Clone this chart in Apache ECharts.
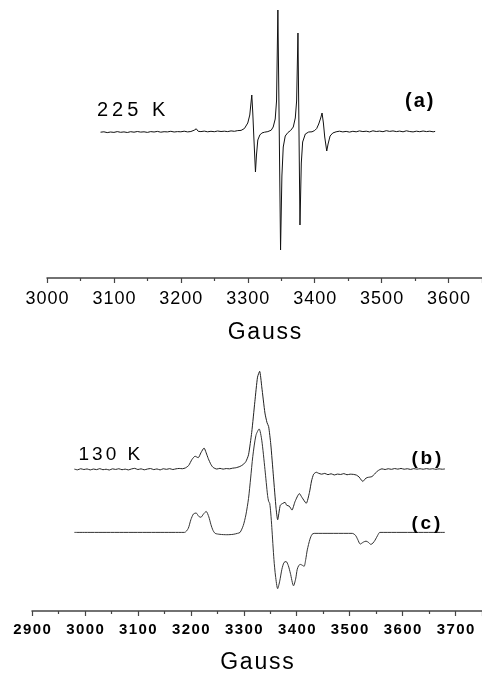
<!DOCTYPE html>
<html>
<head>
<meta charset="utf-8">
<script src="https://cdn.jsdelivr.net/npm/echarts@6/dist/echarts.min.js"></script>
<style>
  html, body { margin: 0; padding: 0; background: #fff; }
  #chart { width: 482px; height: 675px; }
</style>
</head>
<body>
<div id="chart"></div>
<script>
// EPR spectra, [field (G), intensity (a.u.)]
const spec225 = [
  [3080,-1.2],[3085,-0.8],[3090,-1.6],[3095,-1.0],[3100,-1.4],[3105,-0.6],[3110,-1.3],[3115,-0.9],
  [3120,-1.5],[3125,-0.7],[3130,-1.2],[3135,-0.5],[3140,-1.1],[3145,-0.8],[3150,-1.4],[3155,-0.6],
  [3160,-1.0],[3165,-0.4],[3170,-1.2],[3175,-0.7],[3180,-0.9],[3185,-0.3],[3190,-1.0],[3195,-0.6],
  [3200,-0.8],[3205,-0.2],[3210,-0.9],[3215,-0.5],[3220,0.8],[3223,2.2],[3226,-0.3],[3230,-0.6],
  [3235,-0.1],[3240,-0.8],[3245,-0.3],[3250,-0.7],[3255,0.0],[3260,-0.5],[3265,-0.2],[3270,-0.6],
  [3275,0.1],[3280,-0.3],[3285,0.4],[3290,0.6],[3295,2.5],[3300,8],[3303,16],[3306,36],
  [3307.5,18],[3309,-5],[3311.5,-41],[3313,-24],[3315,-9],[3318,-4],[3321,-2],[3325,-1.2],
  [3330,-0.6],[3335,0.8],[3338,4],[3341,12],[3343,30],[3345,121],[3347,2],[3349,-119],
  [3351,-45],[3353,-16],[3356,-5],[3360,-1.5],[3364,0.5],[3368,4],[3371,13],[3373,30],
  [3375,98],[3376.5,2],[3378,-94],[3380,-32],[3382,-11],[3386,-3],[3391,-1],[3396,-0.8],
  [3400,0.5],[3403,2.5],[3406,7],[3409,13],[3411,18],[3413,8],[3415,-6],[3418,-20],
  [3420,-13],[3423,-5],[3427,-2],[3432,-0.8],[3437,-0.2],[3442,-0.9],[3447,-0.4],[3452,-1.1],
  [3457,-0.3],[3462,-0.8],[3467,0.1],[3472,-0.6],[3477,-0.2],[3482,-0.9],[3487,0.2],[3492,-0.5],
  [3497,-0.1],[3502,-0.7],[3507,0.3],[3512,-0.4],[3517,0.1],[3522,-0.6],[3527,-0.1],[3532,-0.8],
  [3537,0.2],[3542,-0.5],[3547,-0.9],[3552,-0.2],[3557,-0.7],[3562,0.0],[3567,-0.6],[3572,-0.2],
  [3577,-0.8],[3580,-0.4]
];

const spec130 = [
  [2980,0.2],[2986,-0.5],[2992,0.6],[2998,-0.2],[3004,0.4],[3010,-0.6],[3016,0.3],[3022,-0.3],
  [3028,0.7],[3034,-0.4],[3040,0.1],[3046,-0.7],[3052,0.5],[3058,-0.1],[3064,0.6],[3070,-0.4],
  [3076,0.2],[3082,-0.6],[3088,0.4],[3094,1.0],[3100,-0.2],[3106,0.5],[3112,-0.5],[3118,0.3],
  [3124,0.8],[3130,-0.3],[3136,0.4],[3142,-0.6],[3148,0.6],[3154,0.0],[3160,0.7],[3166,-0.2],
  [3172,0.5],[3178,0.9],[3184,0.6],[3190,1.5],[3196,4],[3202,10],[3208,13.5],[3214,12],
  [3219,17],[3225,22],[3229,17],[3233,11],[3238,5],[3242,2],[3249,0.3],[3255,1.0],
  [3261,0.2],[3267,0.8],[3273,0.5],[3279,1.2],[3285,1.6],[3293,3],[3299,5],[3304,8],
  [3309,15],[3315,38],[3321,70],[3326,95],[3330,101],[3334,85],[3340,58],[3344,48],
  [3347,44],[3351,26],[3356,-7],[3361,-40],[3364,-52],[3369,-37],[3374,-35],[3378,-34],
  [3381,-37],[3386,-38],[3391,-42],[3397,-33],[3405,-25],[3410,-29],[3418,-35],[3424,-24],
  [3428,-12],[3432,-5],[3437,-3],[3441,-4],[3447,-5],[3453,-4.2],[3459,-5.5],[3465,-4.6],
  [3471,-5.8],[3477,-4.9],[3483,-5.3],[3489,-4.4],[3495,-5.6],[3501,-5],[3507,-5.2],[3513,-6],
  [3518,-8],[3522,-11],[3525,-12.5],[3529,-10],[3533,-8.5],[3538,-8],[3542,-7.5],[3547,-5],
  [3552,-2],[3557,-0.3],[3561,0.5],[3567,-0.2],[3573,0.6],[3579,0.0],[3585,0.8],[3591,0.2],
  [3597,0.9],[3603,0.1],[3609,0.6],[3615,-0.1],[3621,0.7],[3627,0.2],[3633,0.6],[3639,0.1],
  [3645,0.7],[3651,0.2],[3657,0.6],[3663,0.0],[3669,0.5],[3675,0.1],[3680,0.4]
];

// simulated spectrum
const specSim = [
  [2980,0],[3188,0],[3195,4],[3200,13],[3205,19],[3210,20],[3215,16.5],[3219,15.6],
  [3224,19],[3229,21.6],[3234,16],[3238,8],[3242,2],[3246,-1],[3255,-2],[3268,-2.4],
  [3280,-2],[3288,-1],[3293,0],[3299,7],[3304,18],[3309,35],[3313,56],[3317,78],
  [3323,100],[3329,106.6],[3334,95],[3340,65],[3345,38],[3347,32],[3349,30],[3351,20],
  [3353,5],[3357,-28],[3360,-45],[3364,-58],[3368,-50],[3372,-38],[3376,-31],[3380,-30],
  [3384,-34],[3388,-42],[3394,-55],[3398,-48],[3401,-38],[3404,-34],[3407,-33],[3411,-34],
  [3414,-35],[3417,-28],[3420,-18],[3425,-7],[3429,-2],[3433,-1],[3505,-1],[3511,-3],
  [3515,-7],[3520,-12],[3526,-10],[3531,-9],[3536,-10.5],[3540,-12.4],[3544,-11],[3548,-8],
  [3553,-3],[3557,0],[3680,0]
];

// vertical offsets of the stacked traces in the lower panel
const offsetB = 65;
const offsetC = 0;

const FONT = 'Liberation Sans, Arial, sans-serif';

function spaced(str, key) {
  return String(str).split('').map(c => '{' + key + '|' + c + '}').join('');
}
function shift(data, off) {
  return data.map(p => [p[0], p[1] + off]);
}

let myChart = echarts.init(document.getElementById('chart'), null, { renderer: 'canvas' });

function xAxisOf(grid, min, max, labelStyle, nameGap) {
  return {
    type: 'value',
    gridIndex: grid,
    min: min,
    max: max,
    interval: 100,
    position: 'bottom',
    axisLine: { show: true, onZero: false, lineStyle: { color: '#444', width: 1.5 } },
    axisTick: { show: true, length: 5, lineStyle: { color: '#444', width: 1.2 } },
    minorTick: { show: true, splitNumber: 2, length: 3, lineStyle: { color: '#444', width: 1.2 } },
    splitLine: { show: false },
    axisLabel: Object.assign({
      margin: labelStyle.margin,
      showMaxLabel: false,
      formatter: v => (v % 100 === 0 ? spaced(v, 'd') : ''),
      rich: { d: labelStyle.rich }
    }, labelStyle.rich, { padding: 0 }),
    name: spaced('Gauss', 'n'),
    nameLocation: 'middle',
    nameGap: nameGap,
    nameTextStyle: {
      fontFamily: FONT, fontSize: 23, color: '#000',
      rich: { n: { fontFamily: FONT, fontSize: 23, color: '#000', padding: [0, 0.9, 0, 0.9] } }
    }
  };
}

function label(text, left, top, size, weight, gap) {
  let st = { fontFamily: FONT, fontSize: size, fontWeight: weight, color: '#000' };
  return {
    text: spaced(text, 't'), left: left, top: top, padding: 0,
    textStyle: Object.assign({}, st, { rich: { t: Object.assign({}, st, { padding: [0, gap, 0, gap] }) } })
  };
}

let option = {
  backgroundColor: '#fff',
  animation: false,
  title: [
    label('225 K', 95, 100, 20, 'normal', 2),
    label('(a)', 404, 91, 20, 'bold', 1),
    label('130 K', 77, 445, 19, 'normal', 1.5),
    label('(b)', 410, 449, 19, 'bold', 1.4),
    label('(c)', 410, 514, 19, 'bold', 1.4)
  ],
  grid: [
    { left: 47, width: 436, top: 5, height: 273 },
    { left: 32, width: 450, top: 349, height: 270 }
  ],
  xAxis: [
    xAxisOf(0, 3000, 3650, {
      margin: 12,
      rich: { fontFamily: FONT, fontSize: 18, fontWeight: 'normal', color: '#000', padding: [0, 0.5, 0, 0.5] }
    }, 43),
    xAxisOf(1, 2900, 3750, {
      margin: 11,
      rich: { fontFamily: FONT, fontSize: 15, fontWeight: 'bold', color: '#000', padding: [0, 0.7, 0, 0.7] }
    }, 40)
  ],
  yAxis: [
    { type: 'value', gridIndex: 0, min: -147, max: 126, show: false, splitLine: { show: false } },
    { type: 'value', gridIndex: 1, min: -81, max: 189, show: false, splitLine: { show: false } }
  ],
  series: [
    {
      name: '225 K', type: 'line', xAxisIndex: 0, yAxisIndex: 0,
      data: spec225, showSymbol: false, smooth: false,
      lineStyle: { color: '#111', width: 1 }
    },
    {
      name: '130 K (b)', type: 'line', xAxisIndex: 1, yAxisIndex: 1,
      data: shift(spec130, offsetB), showSymbol: false, smooth: 0.2,
      lineStyle: { color: '#222', width: 1 }
    },
    {
      name: '(c)', type: 'line', xAxisIndex: 1, yAxisIndex: 1,
      data: shift(specSim, offsetC), showSymbol: false, smooth: 0.25,
      lineStyle: { color: '#333', width: 1 }
    }
  ]
};
myChart.setOption(option);
</script>
</body>
</html>
